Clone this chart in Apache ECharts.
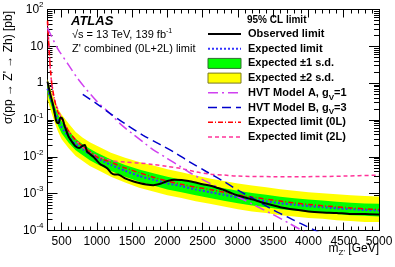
<!DOCTYPE html>
<html><head><meta charset="utf-8">
<script src="https://cdn.jsdelivr.net/npm/echarts@6/dist/echarts.min.js"></script>
<style>html,body{margin:0;padding:0;background:#fff}#c{width:395px;height:267px}</style>
</head><body><div id="c"></div>
<script>
// ---- data ----
const bandMass = [300,350,400,450,500,600,700,800,900,1000,1200,1400,1600,1800,2000,2200,2400,2600,2800,3000,3200,3400,3600,3800,4000,4200,4400,4600,4800,5000];
const expected = [0.71,0.35,0.18,0.10,0.063,0.035,0.022,0.016,0.0117,0.0093,0.0060,0.0042,0.0030,0.0024,0.0019,0.0016,0.0013,0.0011,0.00093,0.00079,0.00069,0.00062,0.00055,0.00050,0.00046,0.00043,0.00040,0.00038,0.00036,0.00035];
const plus2 = [1.3,0.65,0.33,0.20,0.14,0.080,0.047,0.033,0.025,0.020,0.013,0.0095,0.0072,0.0058,0.0046,0.0038,0.0031,0.0026,0.0022,0.0019,0.00166,0.00149,0.00132,0.0012,0.0011,0.00103,0.00096,0.00091,0.00086,0.00084];
const plus1 = [0.94,0.47,0.24,0.14,0.092,0.051,0.031,0.022,0.0165,0.013,0.0085,0.006,0.0045,0.0036,0.0029,0.0024,0.0020,0.00165,0.0014,0.0012,0.00104,0.00093,0.00083,0.00075,0.00069,0.00065,0.0006,0.00057,0.00054,0.00053];
const minus1 = [0.54,0.26,0.13,0.07,0.044,0.024,0.015,0.011,0.0081,0.0064,0.0041,0.0029,0.0021,0.00166,0.0013,0.0011,0.0009,0.00076,0.00064,0.00055,0.00048,0.00043,0.00038,0.00035,0.00032,0.0003,0.00028,0.00026,0.00025,0.00024];
const minus2 = [0.36,0.17,0.088,0.048,0.030,0.017,0.0106,0.0077,0.0056,0.0045,0.0029,0.002,0.00144,0.00115,0.00091,0.00076,0.00062,0.00053,0.00045,0.00038,0.00033,0.0003,0.00026,0.00024,0.00022,0.00021,0.00019,0.00018,0.00017,0.00017];

const obsMass = [300,340,380,420,440,460,480,500,520,540,560,600,650,700,750,800,830,860,900,950,1000,1050,1100,1150,1200,1250,1300,1400,1500,1600,1700,1800,1900,2000,2100,2200,2300,2400,2500,2600,2700,2800,2900,3000,3100,3200,3400,3600,3800,4000,4200,4400,4600,4800,5000];
const observed = [1.1,0.5,0.25,0.1,0.083,0.083,0.115,0.115,0.1,0.07,0.056,0.035,0.025,0.019,0.0174,0.02,0.021,0.014,0.012,0.01,0.0079,0.0063,0.0056,0.0048,0.0037,0.0033,0.0033,0.0026,0.0022,0.00195,0.00178,0.0017,0.00186,0.0022,0.0024,0.00234,0.0022,0.002,0.0018,0.00166,0.00145,0.00126,0.00105,0.00089,0.00079,0.0007,0.00054,0.00043,0.00037,0.00033,0.00031,0.0003,0.00028,0.00028,0.00027];

const exp0LMass = [300,320,340,360,400,450,500,600,700,800,900,1000,1200,1400,1600,1800,2000,2200,2400,2600,2800,3000,3200,3400,3600,3800,4000,4200,4400,4600,4800,5000];
const expected0L = [50,10,2.5,1.0,0.35,0.16,0.11,0.05,0.028,0.019,0.014,0.010,0.0071,0.005,0.0037,0.0028,0.0022,0.0018,0.0015,0.0013,0.0011,0.00093,0.00081,0.00071,0.00063,0.00056,0.00051,0.00047,0.00044,0.00041,0.00039,0.00037];

const exp2LMass = [300,320,340,360,400,500,600,700,800,1000,1200,1400,1600,1800,2000,2200,2400,2600,2800,3000,3500,4000,4500,5000];
const expected2L = [45,10,2.5,1.0,0.35,0.11,0.05,0.029,0.018,0.0107,0.0079,0.0072,0.0068,0.0062,0.0055,0.0048,0.0039,0.0034,0.0032,0.0030,0.0029,0.0029,0.0030,0.0032];

const hvtAMass = [300,440,600,720,850,1000,1170,1340,1500,1670,1800,2000,2200,2320,2500,2700,3000,3250,3500,3750,4000];
const hvtA = [32,9,3.1,1.4,0.68,0.32,0.16,0.076,0.043,0.024,0.0155,0.009,0.0052,0.0037,0.0024,0.00155,0.00081,0.00047,0.00027,0.000148,0.00008];

const hvtBMass = [800,1000,1200,1400,1650,1900,2100,2300,2550,2800,3030,3250,3500,3700,3880,4120,4300];
const hvtB = [0.5,0.275,0.145,0.079,0.039,0.0214,0.0132,0.0076,0.004,0.00214,0.00115,0.00068,0.00036,0.000234,0.000158,0.000095,0.000063];

const xTickLabels = [500,1000,1500,2000,2500,3000,3500,4000,4500,5000];
const yTickLabels = [1e-4,1e-3,1e-2,1e-1,1,10,100];
</script>
<script>
const F = '"Liberation Sans", Arial, Helvetica, sans-serif';
const yMinorTicks = [];
for (let e = -4; e < 2; e++) for (let k = 2; k <= 9; k++) yMinorTicks.push(+(k * Math.pow(10, e)).toPrecision(3));

function pairs(xs, ys) { return xs.map((x, i) => [x, ys[i]]); }

function bandSeries(upper, lower, color) {
  return {
    type: 'custom', clip: true, silent: true, z: 1,
    data: bandMass.map((m, i) => [m, upper[i], lower[i]]),
    encode: { x: 0, y: [1, 2] },
    renderItem: function (params, api) {
      if (params.dataIndex !== 0) return null;
      const pts = [];
      for (let i = 0; i < bandMass.length; i++) pts.push(api.coord([bandMass[i], upper[i]]));
      for (let i = bandMass.length - 1; i >= 0; i--) pts.push(api.coord([bandMass[i], lower[i]]));
      return { type: 'polygon', shape: { points: pts }, style: { fill: color, stroke: null } };
    }
  };
}
function lineSeries(xs, ys, color, width, dash, z, smooth) {
  return {
    type: 'line', data: pairs(xs, ys), showSymbol: false, symbol: 'none', clip: true, z: z,
    smooth: smooth, silent: true,
    lineStyle: { color: color, width: width, type: dash, cap: 'butt' }
  };
}

const axisLineStyle = { show: true, lineStyle: { color: '#000', width: 1 } };
function xAx(pos, major) {
  const a = {
    type: 'value', min: 300, max: 5000, position: pos,
    axisLine: axisLineStyle, splitLine: { show: false },
    axisLabel: { show: false },
    axisTick: { show: true, inside: true, length: major ? 8 : 4, lineStyle: { color: '#000', width: 1 } }
  };
  if (major) {
    a.axisTick.customValues = xTickLabels;
    if (pos === 'bottom') a.axisLabel = { show: true, customValues: xTickLabels, color: '#000', fontSize: 12, fontFamily: F, margin: 5,
      formatter: function (v) { return String(Math.round(v)); } };
  } else {
    a.interval = 100;
  }
  return a;
}
function yAx(pos, major) {
  const a = {
    type: 'log', logBase: 10, min: 1e-4, max: 100, position: pos,
    axisLine: axisLineStyle, splitLine: { show: false },
    axisLabel: { show: false },
    axisTick: { show: true, inside: true, length: major ? 10 : 5, lineStyle: { color: '#000', width: 1 },
      customValues: major ? yTickLabels : yMinorTicks }
  };
  if (major && pos === 'left') {
    a.axisLabel = {
      show: true, customValues: yTickLabels, color: '#000', fontSize: 12, fontFamily: F, margin: 4,
      formatter: function (v) {
        const e = Math.round(Math.log10(v));
        if (e === 0) return '{b|1}';
        if (e === 1) return '{b|10}';
        return '{b|10}{s|' + e + '}';
      },
      rich: {
        b: { fontSize: 12, fontFamily: F, color: '#000' },
        s: { fontSize: 8, fontFamily: F, color: '#000', padding: [0, 0, 9, 0] }
      }
    };
  }
  return a;
}

const LX1 = 208, LX2 = 241, LT = 248, LY0 = 34, LS = 14.7;
function legLine(i, color, width, dash) {
  return { type: 'line', shape: { x1: LX1, y1: LY0 + i * LS, x2: LX2, y2: LY0 + i * LS },
    style: { stroke: color, lineWidth: width, lineDash: dash }, z: 10 };
}
function legBox(i, fill, stroke) {
  return { type: 'rect', shape: { x: LX1, y: LY0 + i * LS - 5, width: LX2 - LX1, height: 10 },
    style: { fill: fill, stroke: stroke, lineWidth: 1 }, z: 10 };
}
const legRich = {
  sub: { fontSize: 8, fontWeight: 'bold', fontFamily: F, fill: '#000', padding: [9, 0, 0, 0] }
};
function legText(i, txt) {
  return { type: 'text', x: LT, y: LY0 + i * LS, z: 10,
    style: { text: txt, font: 'bold 11px ' + F, fill: '#000', verticalAlign: 'middle', align: 'left', rich: legRich } };
}

const option = {
  animation: false,
  backgroundColor: '#fff',
  grid: { left: 47.5, right: 16, top: 9.5, bottom: 36.5, outerBoundsMode: 'none', containLabel: false },
  xAxis: [xAx('bottom', true), xAx('bottom', false), xAx('top', true), xAx('top', false)],
  yAxis: [yAx('left', true), yAx('left', false), yAx('right', true), yAx('right', false)],
  series: [
    bandSeries(plus2, minus2, '#ffff00'),
    bandSeries(plus1, minus1, '#00ff00'),
    lineSeries(bandMass, expected, '#3333ff', 2, [2, 2], 3, 0.2),
    lineSeries(exp2LMass, expected2L, '#ff3399', 1.5, [4, 3], 3, 0.3),
    lineSeries(exp0LMass, expected0L, '#ff0000', 1.5, [5, 2, 1, 2], 3, 0.2),
    lineSeries(hvtAMass, hvtA, '#d040f0', 1.5, [10, 4, 2, 4], 3, 0.3),
    lineSeries(hvtBMass, hvtB, '#0000cc', 1.5, [9, 5], 3, 0.3),
    lineSeries(obsMass, observed, '#000000', 2, 'solid', 4, 0.2)
  ],
  graphic: [
    { type: 'text', x: 71, y: 21, style: { text: 'ATLAS', font: 'italic bold 13px ' + F, fill: '#000', verticalAlign: 'middle' } },
    { type: 'text', x: 72, y: 35, style: { text: '√s = 13 TeV, 139 fb{sup|-1}', font: '11px ' + F, fill: '#000', verticalAlign: 'middle',
        rich: { sup: { fontSize: 7, fontFamily: F, fill: '#000', padding: [0, 0, 8, 0] } } } },
    { type: 'text', x: 72, y: 49, style: { text: "Z' combined (0L+2L) limit", font: '11px ' + F, fill: '#000', verticalAlign: 'middle' } },
    { type: 'text', x: 9, y: 11, rotation: Math.PI / 2,
      style: { text: "σ(pp → Z' → Zh) [pb]", font: '12px ' + F, fill: '#000', align: 'right', verticalAlign: 'middle' } },
    { type: 'text', x: 379, y: 249,
      style: { text: "m{sub|Z'} [GeV]", font: '12px ' + F, fill: '#000', align: 'right', verticalAlign: 'middle',
        rich: { sub: { fontSize: 8, fontFamily: F, fill: '#000', padding: [8, 0, 0, 0] } } } },
    { type: 'text', x: 247, y: 20, z: 10, style: { text: '95% CL limit', font: 'bold 10px ' + F, fill: '#000', verticalAlign: 'middle' } },
    legLine(0, '#000', 2, null), legText(0, 'Observed limit'),
    legLine(1, '#3333ff', 2, [2, 2]), legText(1, 'Expected limit'),
    legBox(2, '#00ff00', '#2f6f2f'), legText(2, 'Expected ±1 s.d.'),
    legBox(3, '#ffff00', '#7a7a20'), legText(3, 'Expected ±2 s.d.'),
    legLine(4, '#d040f0', 1.5, [10, 4, 2, 4]), legText(4, 'HVT Model A, g{sub|V}=1'),
    legLine(5, '#0000cc', 1.5, [9, 5]), legText(5, 'HVT Model B, g{sub|V}=3'),
    legLine(6, '#ff0000', 1.5, [5, 2, 1, 2]), legText(6, 'Expected limit (0L)'),
    legLine(7, '#ff3399', 1.5, [4, 3]), legText(7, 'Expected limit (2L)')
  ]
};
const chart = echarts.init(document.getElementById('c'), null, { renderer: 'canvas' });
chart.setOption(option);
</script>
</body></html>
